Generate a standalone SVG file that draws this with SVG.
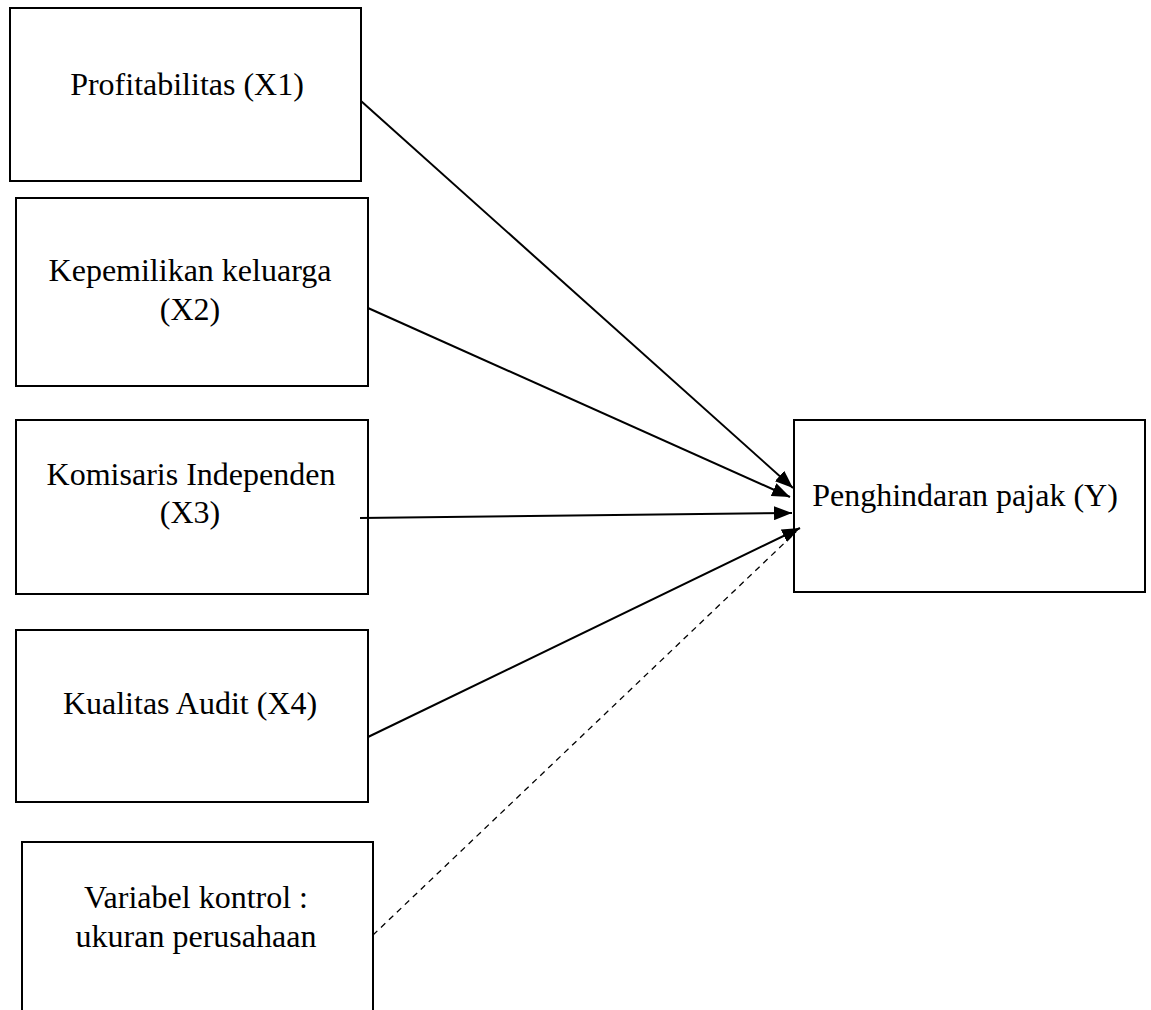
<svg xmlns="http://www.w3.org/2000/svg" width="1151" height="1010" viewBox="0 0 1151 1010">
<style>
.box{fill:#fff;stroke:#000;stroke-width:2}
.t{font-family:"Liberation Serif","Times New Roman",serif;font-size:32px;fill:#000;text-anchor:middle}
.c{stroke:#000;stroke-width:2;fill:none}
.d{stroke:#000;stroke-width:1.3;fill:none;stroke-dasharray:6,5}
</style>
<defs>
<marker id="ah2" viewBox="0 0 10 10" preserveAspectRatio="none" refX="10" refY="5" markerWidth="18" markerHeight="14" markerUnits="userSpaceOnUse" orient="auto">
<path d="M0,0 L10,5 L0,10 z" fill="#000"/>
</marker>
</defs>
<rect width="1151" height="1010" fill="#fff"/>
<g id="x1"><rect class="box" x="10" y="8" width="351" height="173"/><text class="t" x="187" y="95">Profitabilitas (X1)</text></g>
<g id="x2"><rect class="box" x="16" y="198" width="352" height="188"/><text class="t" x="190" y="281">Kepemilikan keluarga</text><text class="t" x="190" y="320">(X2)</text></g>
<g id="x3"><rect class="box" x="16" y="420" width="352" height="174"/><text class="t" x="191" y="485">Komisaris Independen</text><text class="t" x="190" y="523">(X3)</text></g>
<g id="x4"><rect class="box" x="16" y="630" width="352" height="172"/><text class="t" x="190" y="714">Kualitas Audit (X4)</text></g>
<g id="ctrl"><rect class="box" x="22" y="842" width="351" height="180"/><text class="t" x="196" y="908">Variabel kontrol :</text><text class="t" x="196" y="947">ukuran perusahaan</text></g>
<g id="y"><rect class="box" x="794" y="420" width="351" height="172"/><text class="t" x="965" y="506">Penghindaran pajak (Y)</text></g>
<g id="connectors">
<line class="c" x1="361" y1="101" x2="793" y2="488" marker-end="url(#ah2)"/>
<line class="c" x1="368" y1="308" x2="790" y2="497" marker-end="url(#ah2)"/>
<line class="c" x1="360" y1="518" x2="792" y2="513" marker-end="url(#ah2)"/>
<line class="c" x1="368" y1="737" x2="800" y2="528" marker-end="url(#ah2)"/>
<line class="d" x1="373" y1="935" x2="796" y2="532"/>
</g>
</svg>
